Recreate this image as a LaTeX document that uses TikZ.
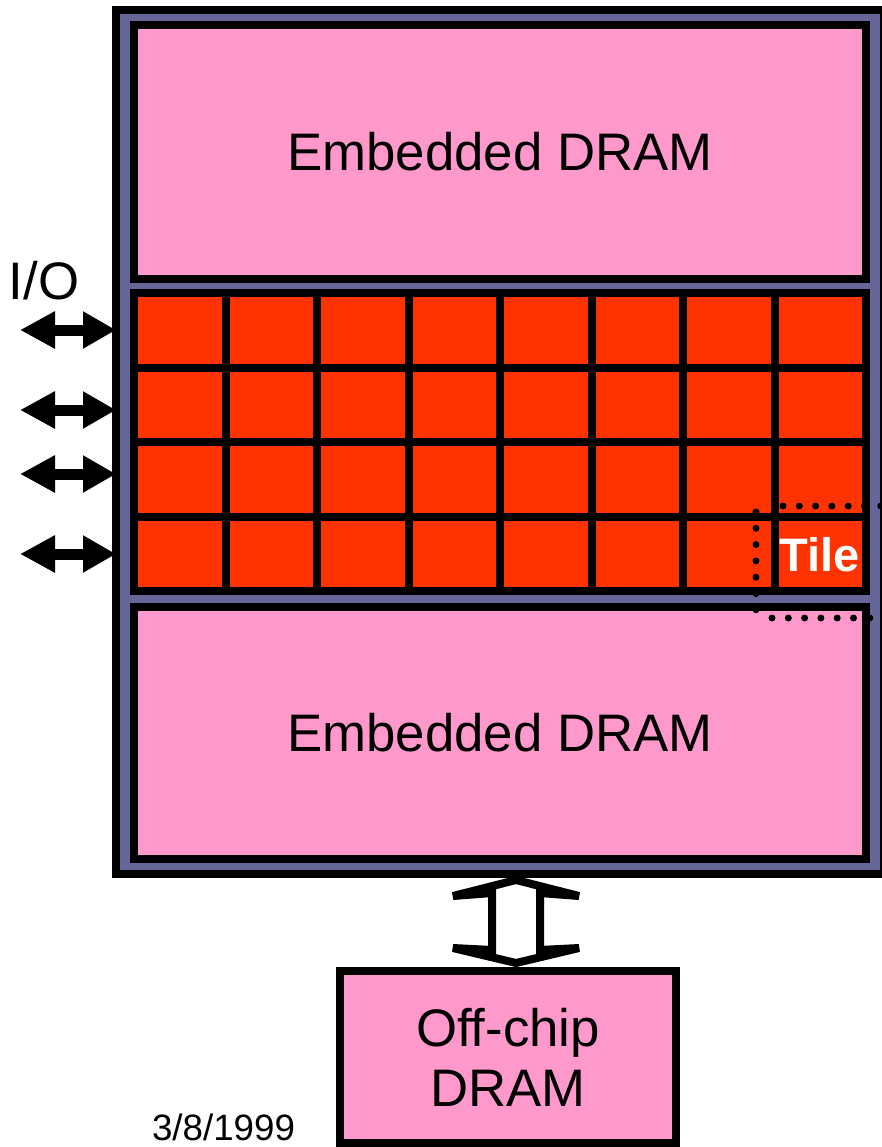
\documentclass[tikz,border=0pt]{standalone}
\usepackage{fontspec}
\setmainfont{Liberation Sans}
\usetikzlibrary{arrows.meta}

\definecolor{dram}{HTML}{FF99CC}
\definecolor{tilered}{HTML}{FF3300}
\definecolor{chipblue}{HTML}{666699}

\begin{document}
\begin{tikzpicture}[
  x=1pt, y=-1pt,
  block/.style={rectangle, draw=black, line width=8pt, inner sep=0pt, outer sep=0pt},
  chipbox/.style={block, fill=chipblue, minimum width=768pt, minimum height=864pt},
  drambox/.style={block, fill=dram, align=center, font=\fontsize{52.8}{60}\selectfont},
  tilecell/.style={block, fill=tilered, minimum width=91.5pt, minimum height=74.5pt},
  txt/.style={font=\fontsize{52.8}{60}\selectfont, inner sep=0pt},
  iobus/.style={line width=11pt, {Triangle[length=35pt,width=35pt]}-{Triangle[length=33pt,width=35pt]}},
  membus/.style={draw=black, fill=white, line width=8pt},
  tiledots/.style={line width=7pt, line cap=round, dash pattern=on 0pt off 16.3pt},
]
  \useasboundingbox (0,0) rectangle (881,1147);

  % Chip and its blocks
  \node[chipbox] (chip) at (500,442) {};
  \node[drambox, minimum width=732pt, minimum height=254pt] (edram1) at (500,152) {Embedded DRAM};
  \node[block, minimum width=732pt, minimum height=298pt] (array) at (500,442) {};
  \node[drambox, minimum width=732pt, minimum height=252.5pt] (edram2) at (500,733) {Embedded DRAM};

  % Tile array
  \foreach \r in {0,...,3}
    \foreach \c in {0,...,7}
      \node[tilecell] (t\r\c) at (179.75+91.5*\c, 330.25+74.5*\r) {};
  \node[font=\bfseries\fontsize{47}{50}\selectfont, text=white, inner sep=0pt] (tilelbl) at (820,555) {Tile};
  \draw[tiledots] (783,506) -- (885,506) (756,512) -- (756,612) (772,618) -- (885,618);

  % I/O
  \node[txt] (io) at (44,281) {I/O};
  \coordinate (io1) at (20,330);
  \coordinate (io2) at (20,410);
  \coordinate (io3) at (20,474);
  \coordinate (io4) at (20,554);
  \foreach \i in {1,...,4}
    \draw[iobus] (io\i) -- (io\i -| chip.west);

  % Off-chip memory
  \node[drambox, minimum width=336pt, minimum height=172pt] (offchip) at (508,1057) {Off-chip\\DRAM};
  \coordinate (bustop) at (516,880);
  \draw[membus] (bustop) -- ++(-63,16) -- ++(39,-3) -- ++(0,57) -- ++(-39,-2) -- ++(63,15)
    -- ++(63,-15) -- ++(-39,2) -- ++(0,-57) -- ++(39,3) -- cycle;

  \node[font=\fontsize{36.7}{40}\selectfont, inner sep=0pt] (date) at (223.5,1127) {3/8/1999};
\end{tikzpicture}
\end{document}
